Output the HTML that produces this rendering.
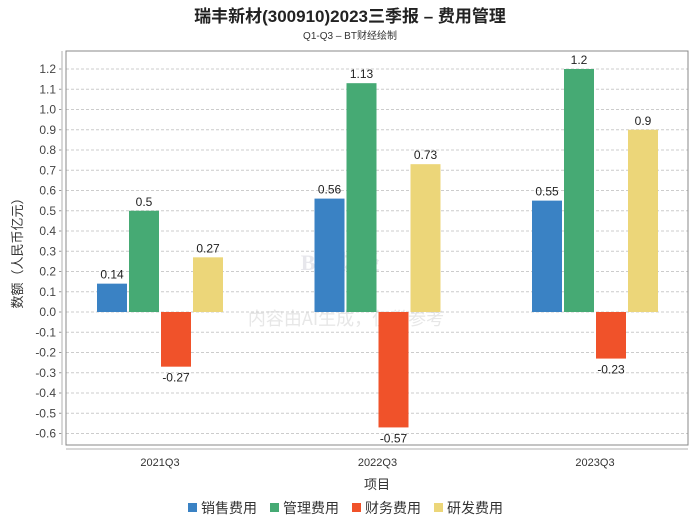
<!DOCTYPE html>
<html><head><meta charset="utf-8"><style>
body{margin:0;background:#fff;width:700px;height:524px;overflow:hidden;font-family:"Liberation Sans","Noto Sans CJK SC",sans-serif}
</style></head><body>
<svg id="c" width="700" height="524" xmlns="http://www.w3.org/2000/svg">
<text x="350" y="22" text-anchor="middle" font-size="17" font-weight="bold" fill="#222" font-family="Liberation Sans,Noto Sans CJK SC,sans-serif">瑞丰新材(300910)2023三季报 – 费用管理</text>
<text x="350" y="39" text-anchor="middle" font-size="10" fill="#333" font-family="Liberation Sans,Noto Sans CJK SC,sans-serif">Q1-Q3 – BT财经绘制</text>
<text x="340" y="270" text-anchor="middle" font-size="22" font-weight="bold" fill="#d8d8e0" opacity="0.6" font-family="Liberation Serif,serif">BT 财经</text>
<text x="346" y="325" text-anchor="middle" font-size="18" fill="#ddd" opacity="0.7" font-family="Noto Sans CJK SC,sans-serif">内容由AI生成，仅供参考</text>
<g id="grid"></g>
<rect x="66" y="51" width="622" height="394" fill="none" stroke="#888"/>
<line x1="62" y1="51" x2="62" y2="445" stroke="#ccc" stroke-width="1.5"/>
<line x1="66" y1="449" x2="688" y2="449" stroke="#ccc" stroke-width="1.5"/>
<g id="bars"></g>
<text x="22" y="250" text-anchor="middle" font-size="13" fill="#333" transform="rotate(-90 22 250)" font-family="Liberation Sans,Noto Sans CJK SC,sans-serif">数额（人民币亿元）</text>
<text x="377" y="489" text-anchor="middle" font-size="13" fill="#333" font-family="Noto Sans CJK SC,sans-serif">项目</text>
<g id="legend"></g>
</svg>
<script>
const categories=["2021Q3","2022Q3","2023Q3"];
const seriesNames=["销售费用","管理费用","财务费用","研发费用"];
const sales=[0.14,0.56,0.55];
const admin=[0.5,1.13,1.2];
const finance=[-0.27,-0.57,-0.23];
const rnd=[0.27,0.73,0.9];
const yTicks=[1.2,1.1,1.0,0.9,0.8,0.7,0.6,0.5,0.4,0.3,0.2,0.1,0.0,-0.1,-0.2,-0.3,-0.4,-0.5,-0.6];
const colors=["#3a82c4","#46aa74","#f0522a","#ecd679"];
const NS="http://www.w3.org/2000/svg";
const y=v=>312-v*202.5;
const xc=i=>160+i*217.5;
function mk(t,a,p){const e=document.createElementNS(NS,t);for(const k in a)e.setAttribute(k,a[k]);p.appendChild(e);return e;}
const grid=document.getElementById('grid');
yTicks.forEach(t=>{
  const l=mk('line',{x1:66,x2:688,y1:y(t),y2:y(t),stroke:'#ccc','stroke-dasharray':'3,2'},grid);
  
  
  const tk=mk('line',{x1:59,x2:62,y1:y(t),y2:y(t),stroke:'#999'},grid);
  
  
  const tx=mk('text',{x:56,y:y(t)+4,'text-anchor':'end','font-size':12,fill:'#444'},grid);
  tx.textContent=t.toFixed(1);
  
  
});
const bars=document.getElementById('bars');
const series=[sales,admin,finance,rnd];
categories.forEach((c,i)=>{
  const t=mk('text',{x:xc(i),y:466,'text-anchor':'middle','font-size':11,fill:'#333'},bars);
  t.textContent=c;
  
  
  series.forEach((s,j)=>{
    const v=s[i];const x=xc(i)-63+j*32;
    const r=mk('rect',{x:x,y:Math.min(y(v),y(0)),width:30,height:Math.abs(y(v)-y(0)),fill:colors[j]},bars);
    
    
    const lt=mk('text',{x:x+15,y:v>=0?y(v)-5:y(v)+15,'text-anchor':'middle','font-size':12,fill:'#222'},bars);
    lt.textContent=String(v);
    
    
  });
});
const lg=document.getElementById('legend');
const lx=[188,270,352,434];
seriesNames.forEach((n,j)=>{
  const r=mk('rect',{x:lx[j],y:503,width:9,height:9,fill:colors[j]},lg);
  
  
  const t=mk('text',{x:lx[j]+13,y:513,'font-size':14,fill:'#333','font-family':'Noto Sans CJK SC,sans-serif'},lg);
  t.textContent=n;
  
  
});
</script>
</body></html>
